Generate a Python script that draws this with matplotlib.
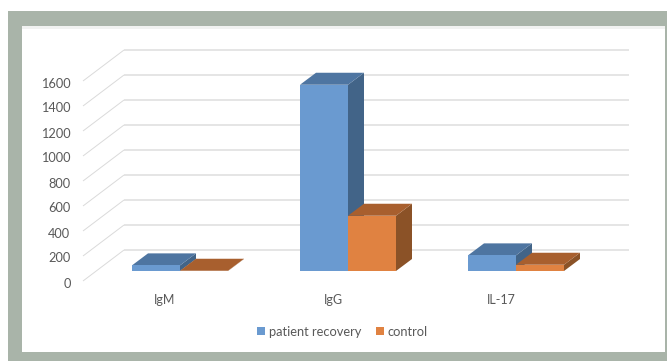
import matplotlib
matplotlib.use("Agg")
import matplotlib.pyplot as plt
from matplotlib.patches import Polygon, Rectangle, Patch
from matplotlib.transforms import ScaledTranslation

categories = ["IgM", "IgG", "IL-17"]
patient_recovery = [45, 1490, 125]
control = [2, 442, 50]
y_ticks = [0, 200, 400, 600, 800, 1000, 1200, 1400, 1600]
series_names = ["patient recovery", "control"]

W, H = 667, 361
FONT = "Lato"
TEXT = "#595959"
GRID = "#DEDEDE"
FRAME = "#A9B4A9"
FACES = [("#6A9AD0", "#4E75A1", "#426488"), ("#E08241", "#A85F2E", "#8B5227")]

# pixel geometry of the plot plane
PX_LEFT, PX_RIGHT, PX_ZERO, PX_TOP = 83, 629, 281, 50
PX_PER_UNIT = 0.125
PX_PER_CAT = 168
PX_CAT0 = 165

fig = plt.figure(figsize=(W / 100, H / 100), dpi=100, facecolor="white")


def fx(px):
    return px / W


def fy(py):
    return 1 - py / H


# frame and white panel
fig.patches.append(Rectangle((fx(7.5), 0), 1 - fx(7.5), fy(11), transform=fig.transFigure,
                             facecolor=FRAME, edgecolor="none", zorder=-3))
fig.patches.append(Rectangle((fx(22), fy(352)), fx(643), (352 - 26) / H, transform=fig.transFigure,
                             facecolor="white", edgecolor="none", zorder=-2))
fig.patches.append(Rectangle((fx(22), fy(29)), fx(643), 2.5 / H, transform=fig.transFigure,
                             facecolor="#F1F2F1", edgecolor="none", zorder=-1))

ax = fig.add_axes([fx(PX_LEFT), fy(PX_ZERO), fx(PX_RIGHT - PX_LEFT), (PX_ZERO - PX_TOP) / H])
ax.patch.set_alpha(0)
ax.set_xlim((PX_LEFT - PX_CAT0) / PX_PER_CAT, (PX_RIGHT - PX_CAT0) / PX_PER_CAT)
ax.set_ylim(0, (PX_ZERO - PX_TOP) / PX_PER_UNIT)
for s in ax.spines.values():
    s.set_visible(False)

# 3-D projection offsets in data units
wall_dx = (124 - PX_LEFT) / PX_PER_CAT
wall_dy = (PX_ZERO - 250) / PX_PER_UNIT
bar_base_dx = 15 / PX_PER_CAT
bar_base_dy = (PX_ZERO - 271) / PX_PER_UNIT
bar_w = 48 / PX_PER_CAT
depth_dx = 16 / PX_PER_CAT
depth_dy = 12 / PX_PER_UNIT

x_left = ax.get_xlim()[0]
x_right = ax.get_xlim()[1]
for v in y_ticks:
    ax.plot([x_left, x_left + wall_dx], [v, v + wall_dy], color="#DADADA", lw=0.7,
            clip_on=False, zorder=1, solid_capstyle="butt")
    ax.plot([x_left + wall_dx, x_right], [v + wall_dy, v + wall_dy], color=GRID, lw=1.1,
            clip_on=False, zorder=1, solid_capstyle="butt")


def bar3d(left, value, faces, z):
    b = bar_base_dy
    r = left + bar_w
    front, top, side = faces
    ax.add_patch(Polygon([(r, b), (r + depth_dx, b + depth_dy), (r + depth_dx, b + value + depth_dy), (r, b + value)],
                         closed=True, facecolor=side, edgecolor="none", zorder=z, clip_on=False))
    ax.add_patch(Polygon([(left, b + value), (r, b + value), (r + depth_dx, b + value + depth_dy),
                          (left + depth_dx, b + value + depth_dy)],
                         closed=True, facecolor=top, edgecolor="none", zorder=z, clip_on=False))
    ax.add_patch(Polygon([(left, b), (r, b), (r, b + value), (left, b + value)],
                         closed=True, facecolor=front, edgecolor="none", zorder=z + 0.1, clip_on=False))


for i in range(len(categories)):
    c = i + bar_base_dx
    bar3d(c - bar_w, patient_recovery[i], FACES[0], 2)
    bar3d(c, control[i], FACES[1], 3)

ax.set_yticks(y_ticks, [str(v) for v in y_ticks], fontname=FONT, fontsize=9.2, color=TEXT)
ax.set_xticks(range(len(categories)), categories, fontname=FONT, fontsize=9, color=TEXT)
ax.tick_params(axis="y", length=0, pad=9)
ax.tick_params(axis="x", length=0, pad=9)
shift = ScaledTranslation(0, -1.5 / 100, fig.dpi_scale_trans)
for lab in ax.get_yticklabels():
    lab.set_transform(lab.get_transform() + shift)

handles = [Patch(facecolor=FACES[0][0], edgecolor="none"), Patch(facecolor=FACES[1][0], edgecolor="none")]
fig.legend(handles, series_names, loc="center", bbox_to_anchor=(fx(342.5), fy(331.5)), ncol=2, frameon=False,
           prop={"family": FONT, "size": 9.3}, labelcolor=TEXT, handlelength=0.6, handleheight=0.6,
           handletextpad=0.3, columnspacing=1.15, borderpad=0, borderaxespad=0)

fig.savefig("out.png", dpi=100, facecolor="white")
